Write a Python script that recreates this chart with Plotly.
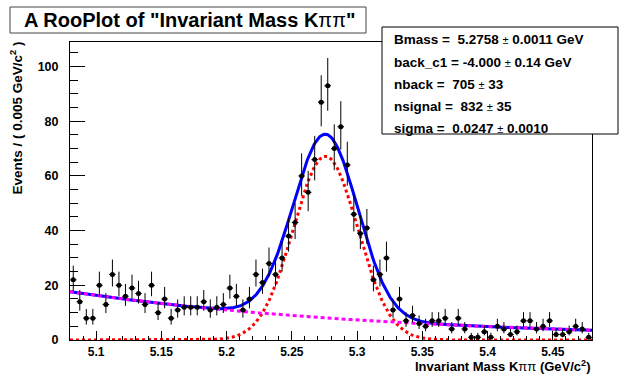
import numpy as np
import plotly.graph_objects as go

# ---- data ----
bin_lo = 5.08
bin_width = 0.005
counts = [22, 14, 8, 8, 20, 13, 24, 20, 16, 19,
          17, 13, 20, 10, 15, 8, 11, 12, 12, 12,
          14, 11, 12, 13, 19, 16, 11, 15, 24, 21,
          28, 24, 30, 38, 43, 60, 54, 66, 87, 93,
          70, 78, 64, 46, 39, 41, 22, 24, 30, 11,
          15, 7, 9, 6, 5, 7, 7, 8, 4, 8,
          4, 1, 1, 3, 1, 5, 4, 2, 3, 7,
          7, 4, 5, 7, 2, 2, 3, 5, 4, 1]

# fit parameters shown in the stats box
Bmass = 5.2758
back_c1 = -4.000
nback = 705
nsignal = 832
sigma = 0.0247

stat_lines = [
    "Bmass =  5.2758 ± 0.0011 GeV",
    "back_c1 = -4.000 ± 0.14 GeV",
    "nback =  705 ± 33",
    "nsignal =  832 ± 35",
    "sigma =  0.0247 ± 0.0010",
]
x_ticks = [5.1, 5.15, 5.2, 5.25, 5.3, 5.35, 5.4, 5.45]
y_ticks = [0, 20, 40, 60, 80, 100]

# ---- derived ----
n = np.array(counts, dtype=float)
xc = bin_lo + bin_width * (np.arange(len(counts)) + 0.5)
x_hi = bin_lo + bin_width * len(counts)
err_up = 0.5 + np.sqrt(n + 0.25)
err_dn = -0.5 + np.sqrt(n + 0.25)

xs = np.linspace(bin_lo, x_hi, 600)
sig = nsignal * bin_width / (sigma * np.sqrt(2 * np.pi)) * np.exp(-0.5 * ((xs - Bmass) / sigma) ** 2)
norm_b = (np.exp(back_c1 * (x_hi - bin_lo)) - 1) / back_c1
bkg = nback * bin_width * np.exp(back_c1 * (xs - bin_lo)) / norm_b
tot = sig + bkg

FONT = "Liberation Sans, Arial, sans-serif"

fig = go.Figure()
fig.add_trace(go.Scatter(x=xs, y=tot, mode="lines", line=dict(color="#0000ff", width=3), hoverinfo="skip"))
fig.add_trace(go.Scatter(x=xs, y=sig, mode="lines", line=dict(color="#ff0000", width=3, dash="dot"), hoverinfo="skip"))
fig.add_trace(go.Scatter(x=xs, y=bkg, mode="lines", line=dict(color="#ff00ff", width=3, dash="4px,3px"), hoverinfo="skip"))
fig.add_trace(go.Scatter(
    x=xc, y=n, mode="markers",
    marker=dict(color="black", size=5, symbol="circle"),
    error_y=dict(type="data", symmetric=False, array=err_up, arrayminus=err_dn, color="black", thickness=1, width=0),
    error_x=dict(type="constant", value=bin_width / 2, color="black", thickness=1, width=0),
))

L, R, T, B = 70, 592, 42, 340
W, H = R - L, B - T


def px(xp):
    return (xp - L) / W


def py(yp):
    return (B - yp) / H


shapes = [
    dict(type="rect", xref="paper", yref="paper", x0=px(10), x1=px(366), y0=py(33), y1=py(7),
         line=dict(color="#444", width=1), fillcolor="white", layer="above"),
    dict(type="rect", xref="paper", yref="paper", x0=px(382), x1=px(618), y0=py(134), y1=py(27),
         line=dict(color="black", width=1), fillcolor="white", layer="above"),
]

annotations = [
    dict(text='<b>A RooPlot of "Invariant Mass K</b>ππ<b>"</b>', xref="paper", yref="paper",
         x=px(22), y=py(20), xanchor="left", yanchor="middle", showarrow=False,
         font=dict(family=FONT, size=20, color="black")),
    dict(text="<b>Events / ( 0.005 GeV/c<sup>2</sup> )</b>", xref="paper", yref="paper",
         x=px(17), y=py(40), xanchor="center", yanchor="top", textangle=-90, showarrow=False,
         font=dict(family=FONT, size=13.5, color="black")),
    dict(text="<b>Invariant Mass K</b>ππ<b> (GeV/c<sup>2</sup>)</b>", xref="paper", yref="paper",
         x=1.0, y=py(366), xanchor="right", yanchor="middle", showarrow=False,
         font=dict(family=FONT, size=13, color="black")),
]
row_y = [39, 61.5, 84, 106, 127.5]
for line, yy in zip(stat_lines, row_y):
    a, b = line.split("±")
    txt = "<b>" + a + "</b><span style='font-size:11px'>±</span><b>" + b + "</b>"
    annotations.append(dict(text=txt, xref="paper", yref="paper", x=px(392), y=py(yy + 1),
                            xanchor="left", yanchor="middle", showarrow=False,
                            font=dict(family=FONT, size=13.5, color="black")))

fig.update_layout(
    width=624, height=374,
    margin=dict(l=L, r=624 - R, t=T, b=374 - B, pad=0),
    paper_bgcolor="white", plot_bgcolor="white",
    showlegend=False,
    shapes=shapes, annotations=annotations,
    xaxis=dict(range=[bin_lo, x_hi], tickvals=x_ticks, ticktext=[f"{v:g}" for v in x_ticks],
               ticks="inside", ticklen=9, tickwidth=1, tickcolor="black",
               minor=dict(dtick=0.01, tick0=5.1, ticks="inside", ticklen=4.5, tickcolor="black", tickwidth=1),
               showline=True, linecolor="black", linewidth=1, mirror=True, showgrid=False, zeroline=False,
               tickfont=dict(family=FONT, size=12, color="black", weight="bold"), ticklabelstandoff=1),
    yaxis=dict(range=[0, 109], tickvals=y_ticks, ticks="inside", ticklen=15, tickwidth=1, tickcolor="black",
               minor=dict(dtick=5, tick0=0, ticks="inside", ticklen=7.5, tickcolor="black", tickwidth=1),
               showline=True, linecolor="black", linewidth=1, mirror=True, showgrid=False, zeroline=False,
               tickfont=dict(family=FONT, size=12.5, color="black", weight="bold"), ticklabelstandoff=8),
)

fig.write_html("out.html")
